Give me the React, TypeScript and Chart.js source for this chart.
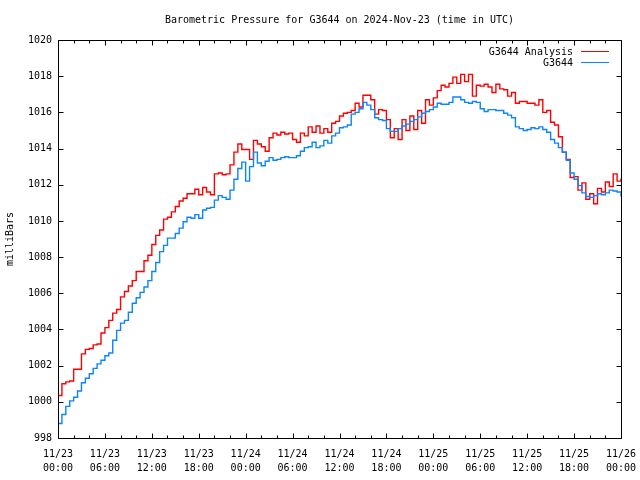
import { useEffect, useRef } from 'react';
import { Chart, registerables } from 'chart.js';

Chart.register(...registerables);

const TITLE = 'Barometric Pressure for G3644 on 2024-Nov-23 (time in UTC)';
const Y_LABEL = 'milliBars';
const SERIES_NAMES = ['G3644 Analysis', 'G3644'];
const SERIES_COLORS = ['#ff0000', '#0a84ff'];
const DAY_LABELS = ['11/23', '11/24', '11/25', '11/26'];
const HOUR_LABELS = ['00:00', '06:00', '12:00', '18:00'];
const SAMPLE_STEP_H = 0.5;
const X_MAX_H = 72;
const Y_MIN = 998;
const Y_MAX = 1020;

// G3644 Analysis (red), every 30 minutes from 11/23 00:00
const analysis = [
  1000.35, 1001.0, 1001.1, 1001.15, 1001.8, 1001.8, 1002.65, 1002.9, 1002.95, 1003.15, 1003.2, 1003.8,
  1004.1, 1004.5, 1004.9, 1005.1, 1005.8, 1006.1, 1006.4, 1006.7, 1007.2, 1007.2, 1007.8, 1008.1,
  1008.7, 1009.2, 1009.5, 1010.1, 1010.2, 1010.5, 1010.8, 1011.1, 1011.25, 1011.5, 1011.5, 1011.75,
  1011.45, 1011.85, 1011.6, 1011.45, 1012.6, 1012.65, 1012.55, 1012.6, 1013.1, 1013.8, 1014.25, 1013.95,
  1013.95, 1013.4, 1014.45, 1014.25, 1014.1, 1013.85, 1014.6, 1014.85, 1014.75, 1014.9, 1014.8, 1014.85,
  1014.5, 1014.35, 1014.85, 1014.7, 1015.2, 1014.9, 1015.25, 1014.85, 1015.1, 1014.9, 1015.4, 1015.5,
  1015.8, 1015.95, 1016.0, 1016.1, 1016.5, 1016.3, 1016.95, 1016.95, 1016.7, 1015.9, 1016.15, 1016.1,
  1015.6, 1014.6, 1015.1, 1014.5, 1015.6, 1015.0, 1015.8, 1015.05, 1016.1, 1015.4, 1016.7, 1016.4,
  1016.8, 1017.2, 1017.5, 1017.4, 1017.6, 1017.95, 1017.6, 1018.1, 1017.7, 1018.1, 1016.9, 1017.5,
  1017.45, 1017.55, 1017.4, 1017.1, 1017.55, 1017.3, 1017.25, 1016.9, 1017.1, 1016.5, 1016.6, 1016.6,
  1016.5, 1016.5, 1016.4, 1016.7, 1016.0, 1016.1, 1015.45, 1015.3, 1014.65, 1013.8, 1013.4, 1012.4,
  1012.45, 1011.7, 1012.1, 1011.2, 1011.5, 1010.95, 1011.8, 1011.6, 1012.15, 1011.9, 1012.6, 1012.2,
  1012.35,
];

// G3644 station (blue), every 30 minutes from 11/23 00:00
const station = [
  998.8, 999.3, 999.75, 1000.05, 1000.25, 1000.6, 1001.05, 1001.3, 1001.55, 1001.85, 1002.1, 1002.3,
  1002.55, 1002.7, 1003.4, 1003.95, 1004.35, 1004.5, 1004.95, 1005.45, 1005.75, 1006.05, 1006.35, 1006.7,
  1007.2, 1007.7, 1008.3, 1008.65, 1009.05, 1009.05, 1009.3, 1009.6, 1009.95, 1010.2, 1010.15, 1010.35,
  1010.15, 1010.6, 1010.7, 1010.75, 1011.15, 1011.4, 1011.3, 1011.2, 1011.7, 1012.3, 1012.9, 1013.25,
  1012.2, 1013.0, 1013.8, 1013.2, 1013.05, 1013.3, 1013.5, 1013.35, 1013.4, 1013.5, 1013.55, 1013.5,
  1013.5, 1013.6, 1013.85, 1014.05, 1014.1, 1014.35, 1014.05, 1014.15, 1014.45, 1014.3, 1014.7, 1014.85,
  1015.15, 1015.2, 1015.3, 1015.9, 1016.0, 1016.2, 1016.55, 1016.4, 1016.15, 1015.7, 1015.6, 1015.55,
  1015.1, 1014.95, 1014.95, 1015.1, 1015.25, 1015.35, 1015.5, 1015.6, 1015.75, 1015.95, 1016.05, 1016.15,
  1016.3, 1016.5, 1016.45, 1016.45, 1016.55, 1016.85, 1016.85, 1016.7, 1016.55, 1016.5, 1016.6, 1016.55,
  1016.2, 1016.05, 1016.15, 1016.15, 1016.1, 1016.1, 1015.95, 1015.85, 1015.7, 1015.2, 1015.1, 1015.0,
  1015.05, 1015.15, 1015.1, 1015.2, 1015.05, 1014.9, 1014.5, 1014.3, 1014.05, 1013.8, 1013.35, 1012.65,
  1012.3, 1011.95, 1011.55, 1011.35, 1011.3, 1011.4, 1011.5, 1011.45, 1011.55, 1011.7, 1011.65, 1011.6,
  1011.35,
];

const FONT_FAMILY = '"DejaVu Sans Mono", "Liberation Mono", monospace';
const FONT_SIZE = 10;

const toPoints = (vals: number[]) => vals.map((v, i) => ({ x: i * SAMPLE_STEP_H, y: v }));

const framePlugin = {
  id: 'gnuplotFrame',
  afterDatasetsDraw(chart: any) {
    const { ctx, chartArea } = chart;
    const { left, right, top, bottom } = chartArea;
    const xs = chart.scales.x;
    const ys = chart.scales.y;
    ctx.save();
    ctx.strokeStyle = '#000';
    ctx.lineWidth = 1;
    const L = Math.round(left) + 0.5;
    const R = Math.round(right) + 0.5;
    const T = Math.round(top) + 0.5;
    const B = Math.round(bottom) + 0.5;
    ctx.beginPath();
    ctx.rect(L, T, R - L, B - T);
    xs.ticks.forEach((t: any) => {
      const px = Math.round(xs.getPixelForValue(t.value)) + 0.5;
      const len = t.value % 6 === 0 ? 5 : 3;
      ctx.moveTo(px, B);
      ctx.lineTo(px, B - len);
      ctx.moveTo(px, T);
      ctx.lineTo(px, T + len);
    });
    ys.ticks.forEach((t: any) => {
      const py = Math.round(ys.getPixelForValue(t.value)) + 0.5;
      ctx.moveTo(L, py);
      ctx.lineTo(L + 5, py);
      ctx.moveTo(R, py);
      ctx.lineTo(R - 5, py);
    });
    ctx.stroke();

    ctx.font = `${FONT_SIZE}px ${FONT_FAMILY}`;
    ctx.textAlign = 'right';
    ctx.textBaseline = 'middle';
    const lineEnd = Math.round(right) - 12;
    const lineStart = lineEnd - 28;
    chart.data.datasets.forEach((ds: any, i: number) => {
      const y = Math.round(top) + 11.5 + i * 11;
      ctx.fillStyle = '#000';
      ctx.fillText(ds.label, lineStart - 8, y + 0.5);
      ctx.strokeStyle = ds.borderColor;
      ctx.beginPath();
      ctx.moveTo(lineStart, y);
      ctx.lineTo(lineEnd, y);
      ctx.stroke();
    });
    ctx.restore();
  },
};

export default function App() {
  const ref = useRef<HTMLCanvasElement | null>(null);

  useEffect(() => {
    if (!ref.current) return;
    Chart.defaults.color = '#000';
    Chart.defaults.font.family = FONT_FAMILY;
    Chart.defaults.font.size = FONT_SIZE;
    const chart = new Chart(ref.current, {
      type: 'line',
      data: {
        datasets: [
          {
            label: SERIES_NAMES[0],
            data: toPoints(analysis),
            borderColor: SERIES_COLORS[0],
            backgroundColor: SERIES_COLORS[0],
            borderWidth: 1.4,
            pointRadius: 0,
            stepped: true,
            order: 2,
          },
          {
            label: SERIES_NAMES[1],
            data: toPoints(station),
            borderColor: SERIES_COLORS[1],
            backgroundColor: SERIES_COLORS[1],
            borderWidth: 1.4,
            pointRadius: 0,
            stepped: true,
            order: 1,
          },
        ],
      },
      options: {
        responsive: false,
        animation: false,
        events: [],
        layout: { padding: { left: 0, right: 19, top: 0, bottom: 0 } },
        plugins: {
          legend: { display: false },
          tooltip: { enabled: false },
          title: {
            display: true,
            text: TITLE,
            fullSize: false,
            color: '#000',
            font: { family: FONT_FAMILY, size: FONT_SIZE, weight: 'normal', lineHeight: 1.2 },
            padding: { top: 14, bottom: 14 },
          },
        },
        scales: {
          x: {
            type: 'linear',
            min: 0,
            max: X_MAX_H,
            grid: { display: false, drawTicks: false },
            border: { display: false },
            afterFit: (s: any) => {
              s.height = 42;
              s.paddingLeft = 0;
              s.paddingRight = 0;
            },
            ticks: {
              stepSize: 2,
              autoSkip: false,
              maxRotation: 0,
              padding: 9,
              font: { family: FONT_FAMILY, size: FONT_SIZE, lineHeight: 1.4 },
              callback: (v: any) => {
                const h = Number(v);
                if (h % 6 !== 0) return '';
                const day = DAY_LABELS[Math.floor(h / 24)];
                const hr = HOUR_LABELS[(h % 24) / 6];
                return [day, hr];
              },
            },
          },
          y: {
            type: 'linear',
            min: Y_MIN,
            max: Y_MAX,
            grid: { display: false, drawTicks: false },
            border: { display: false },
            afterFit: (s: any) => {
              s.width = 58;
            },
            title: {
              display: true,
              text: Y_LABEL,
              font: { family: FONT_FAMILY, size: FONT_SIZE },
              padding: { top: 4, bottom: 0 },
            },
            ticks: {
              stepSize: 2,
              padding: 6,
              font: { family: FONT_FAMILY, size: FONT_SIZE },
              callback: (v: any) => String(v),
            },
          },
        },
      },
      plugins: [framePlugin],
    });
    return () => chart.destroy();
  }, []);

  return (
    <div style={{ position: 'absolute', left: 0, top: 0, width: 640, height: 480, background: '#fff' }}>
      <canvas ref={ref} width={640} height={480} />
    </div>
  );
}
